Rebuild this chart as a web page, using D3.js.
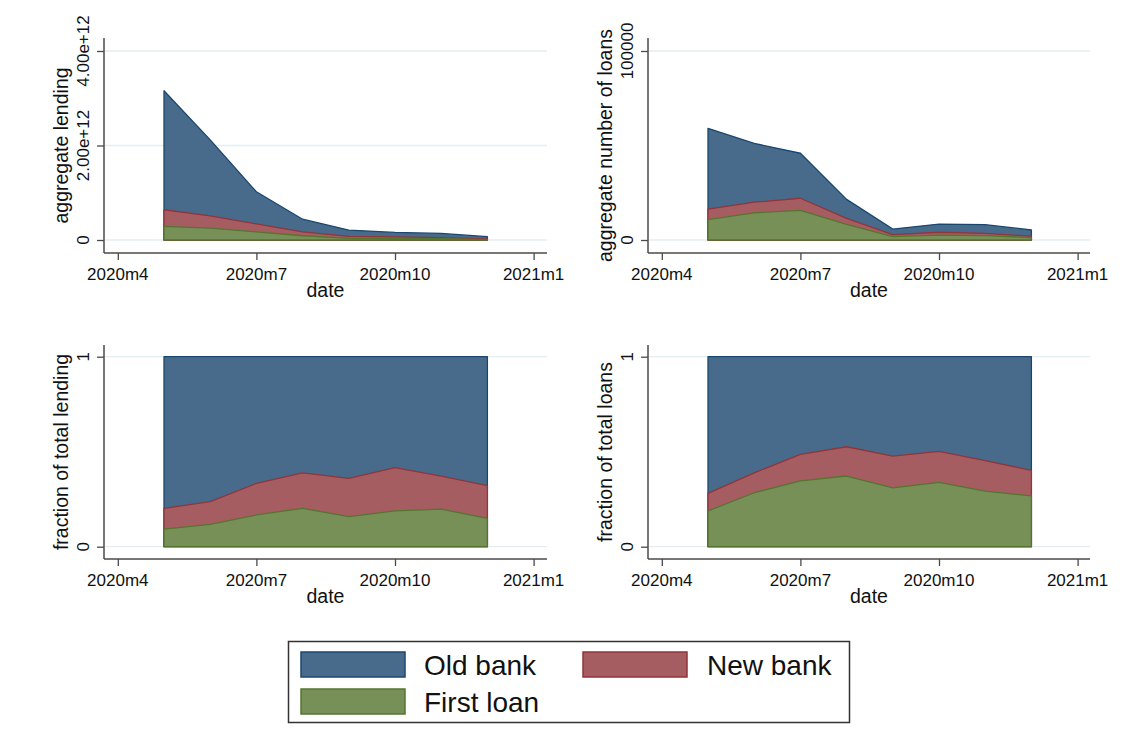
<!DOCTYPE html>
<html>
<head>
<meta charset="utf-8">
<script src="https://cdn.jsdelivr.net/npm/d3@7"></script>
<style>
  html, body { margin: 0; padding: 0; background: #ffffff; }
  svg { display: block; font-family: "Liberation Sans", Arial, sans-serif; }
</style>
</head>
<body>
<svg id="chart" width="1127" height="750"></svg>
<script>
// Months covered by the data (Stata monthly format)
const months = ["2020m5", "2020m6", "2020m7", "2020m8", "2020m9", "2020m10", "2020m11", "2020m12"];
const xTickLabels = ["2020m4", "2020m7", "2020m10", "2021m1"];

// Aggregate lending (currency units)
const lendingOld   = [2.52e12, 1.61e12, 0.68e12, 0.27e12, 0.134e12, 0.093e12, 0.088e12, 0.048e12];
const lendingNew   = [0.35e12, 0.26e12, 0.17e12, 0.08e12, 0.043e12, 0.037e12, 0.024e12, 0.012e12];
const lendingFirst = [0.29e12, 0.25e12, 0.17e12, 0.09e12, 0.033e12, 0.030e12, 0.028e12, 0.010e12];

// Aggregate number of loans
const loansOld   = [42800, 31100, 23800, 10100, 3000, 4300, 4600, 3300];
const loansNew   = [5500, 5600, 6400, 3100, 1000, 1500, 1200, 700];
const loansFirst = [10800, 14400, 15700, 8300, 1800, 2600, 2300, 1300];

// Shares of total lending
const shareLendOld   = [0.798, 0.763, 0.667, 0.611, 0.640, 0.584, 0.628, 0.679];
const shareLendNew   = [0.109, 0.119, 0.166, 0.187, 0.202, 0.227, 0.174, 0.172];
const shareLendFirst = [0.093, 0.118, 0.167, 0.202, 0.158, 0.189, 0.198, 0.149];

// Shares of total loans
const shareLoanOld   = [0.719, 0.611, 0.514, 0.474, 0.523, 0.498, 0.547, 0.598];
const shareLoanNew   = [0.093, 0.105, 0.140, 0.154, 0.167, 0.163, 0.160, 0.135];
const shareLoanFirst = [0.188, 0.284, 0.346, 0.372, 0.310, 0.339, 0.293, 0.267];

const seriesNames = ["Old bank", "New bank", "First loan"];
const yTicksLending = [0, 2e12, 4e12];
const yTicksLoans = [0, 100000];
const yTicksShare = [0, 1];

const colors = {
  old:   { fill: "#486b8b", stroke: "#1a476f" },
  newb:  { fill: "#a65d61", stroke: "#90353b" },
  first: { fill: "#779058", stroke: "#55752f" }
};

// Stata month number from a "YYYYmM" label
const monthNum = s => { const [y, m] = s.split("m").map(Number); return (y - 1960) * 12 + m - 1; };

const svg = d3.select("#chart");
const fontTick = 17, fontTitle = 19.5;

const panels = [
  { old: lendingOld, newb: lendingNew, first: lendingFirst, ticks: yTicksLending, max: 4e12,
    fmt: v => v === 0 ? "0" : (v / 1e12).toFixed(2) + "e+12",
    title: "aggregate lending", left: 104, right: 547, top: 38, bottom: 253, y0: 240, y1: 51 },
  { old: loansOld, newb: loansNew, first: loansFirst, ticks: yTicksLoans, max: 100000,
    fmt: v => String(v),
    title: "aggregate number of loans", left: 648, right: 1090, top: 38, bottom: 253, y0: 240, y1: 51 },
  { old: shareLendOld, newb: shareLendNew, first: shareLendFirst, ticks: yTicksShare, max: 1,
    fmt: v => String(v),
    title: "fraction of total lending", left: 104, right: 547, top: 345, bottom: 559, y0: 546.7, y1: 356.7 },
  { old: shareLoanOld, newb: shareLoanNew, first: shareLoanFirst, ticks: yTicksShare, max: 1,
    fmt: v => String(v),
    title: "fraction of total loans", left: 648, right: 1090, top: 345, bottom: 559, y0: 546.7, y1: 356.7 }
];

panels.forEach(p => {
  const g = svg.append("g");
  const tickFirst = monthNum(xTickLabels[0]);
  const tickLast = monthNum(xTickLabels[xTickLabels.length - 1]);
  const x = d3.scaleLinear().domain([tickFirst, tickLast]).range([p.left + 13.8, p.left + 429.6]);
  const y = d3.scaleLinear().domain([0, p.max]).range([p.y0, p.y1]);

  // horizontal gridlines
  g.selectAll("line.grid").data(p.ticks).join("line")
    .attr("x1", p.left + 1).attr("x2", p.right)
    .attr("y1", d => y(d)).attr("y2", d => y(d))
    .attr("stroke", "#e4eef1").attr("stroke-width", 1.3);

  // stacked data: first loan at the bottom, old bank on top
  const rows = months.map((m, i) => ({ m: monthNum(m), first: p.first[i], newb: p.newb[i], old: p.old[i] }));
  const stack = d3.stack().keys(["first", "newb", "old"])(rows);

  // each layer drawn as a cumulative area from zero, top layer first
  const area = d3.area().x(d => x(d.data.m)).y0(y(0)).y1(d => y(d[1]));
  [...stack].reverse().forEach(layer => {
    g.append("path").datum(layer)
      .attr("d", area)
      .attr("fill", colors[layer.key].fill)
      .attr("stroke", colors[layer.key].stroke)
      .attr("stroke-width", 1.3)
      .attr("stroke-linejoin", "round");
  });

  // y axis
  const yAxis = d3.axisLeft(y).tickValues(p.ticks).tickSize(7).tickFormat("");
  const ya = g.append("g").attr("transform", `translate(${p.left},0)`).call(yAxis);
  ya.select(".domain").remove();
  ya.selectAll(".tick line").attr("stroke", "#4a4a4a").attr("stroke-width", 1.3);
  g.append("line").attr("x1", p.left).attr("x2", p.left).attr("y1", p.top).attr("y2", p.bottom)
    .attr("stroke", "#4a4a4a").attr("stroke-width", 1.5);
  g.selectAll("text.ytick").data(p.ticks).join("text")
    .attr("transform", d => `translate(${p.left - 15},${y(d)}) rotate(-90)`)
    .attr("text-anchor", "middle").attr("font-size", fontTick).attr("fill", "#111")
    .text(p.fmt);

  // x axis
  const xAxis = d3.axisBottom(x).tickValues(xTickLabels.map(monthNum)).tickSize(7).tickFormat("");
  const xa = g.append("g").attr("transform", `translate(0,${p.bottom})`).call(xAxis);
  xa.select(".domain").remove();
  xa.selectAll(".tick line").attr("stroke", "#4a4a4a").attr("stroke-width", 1.3);
  g.append("line").attr("x1", p.left).attr("x2", p.right).attr("y1", p.bottom).attr("y2", p.bottom)
    .attr("stroke", "#4a4a4a").attr("stroke-width", 1.5);
  g.selectAll("text.xtick").data(xTickLabels).join("text")
    .attr("x", d => x(monthNum(d))).attr("y", p.bottom + 27)
    .attr("text-anchor", "middle").attr("font-size", fontTick).attr("fill", "#111")
    .text(d => d);

  // axis titles
  g.append("text")
    .attr("x", (p.left + p.right) / 2).attr("y", p.bottom + 44)
    .attr("text-anchor", "middle").attr("font-size", fontTitle).attr("fill", "#111")
    .text("date");
  g.append("text")
    .attr("transform", `translate(${p.left - 36},${(p.top + p.bottom) / 2}) rotate(-90)`)
    .attr("text-anchor", "middle").attr("font-size", fontTitle).attr("fill", "#111")
    .text(p.title);
});

// legend
const lg = svg.append("g");
lg.append("rect").attr("x", 288.5).attr("y", 641.5).attr("width", 561).attr("height", 81)
  .attr("fill", "#fff").attr("stroke", "#333").attr("stroke-width", 1.5);
const legendItems = [
  { name: seriesNames[0], key: "old",   sx: 301, tx: 424, sy: 652, ty: 675 },
  { name: seriesNames[1], key: "newb",  sx: 583, tx: 707, sy: 652, ty: 675 },
  { name: seriesNames[2], key: "first", sx: 301, tx: 424, sy: 689, ty: 712 }
];
legendItems.forEach(it => {
  lg.append("rect").attr("x", it.sx).attr("y", it.sy).attr("width", 104).attr("height", 25)
    .attr("fill", colors[it.key].fill).attr("stroke", colors[it.key].stroke).attr("stroke-width", 1.5);
  lg.append("text").attr("x", it.tx).attr("y", it.ty)
    .attr("font-size", 28).attr("fill", "#111").text(it.name);
});
</script>
</body>
</html>
